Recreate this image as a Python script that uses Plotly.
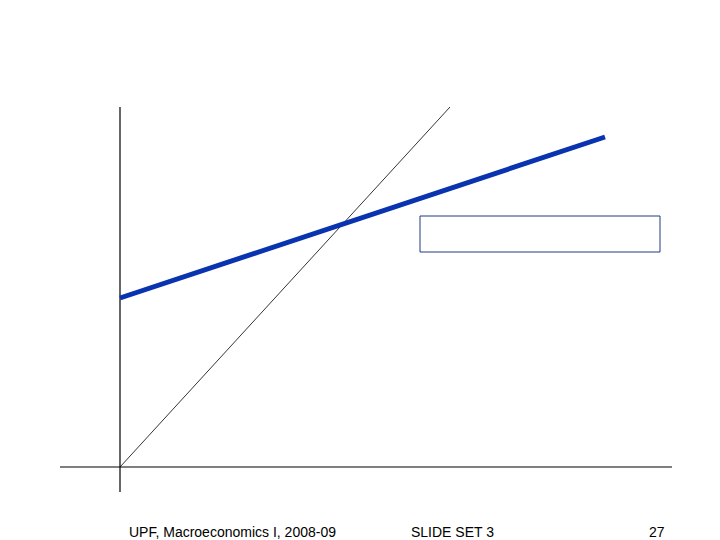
import plotly.graph_objects as go

# Coordinates relative to the origin of the diagram (arbitrary units)
diag_x = [0, 330]
diag_y = [0, 360]
line_x = [0, 485]
line_y = [169, 330]
haxis_x = [-60, 552]
haxis_y = [0, 0]
vaxis_x = [0, 0]
vaxis_y = [-25, 360]
box_x = [300, 540]
box_y = [215, 251]
footer_texts = ["UPF, Macroeconomics I, 2008-09", "SLIDE SET 3", "27"]
footer_x = [112, 332, 537]
footer_y = -65

fig = go.Figure()
fig.add_trace(go.Scatter(x=haxis_x, y=haxis_y, mode="lines",
                         line=dict(color="black", width=1.2), hoverinfo="skip"))
fig.add_trace(go.Scatter(x=vaxis_x, y=vaxis_y, mode="lines",
                         line=dict(color="black", width=1.2), hoverinfo="skip"))
fig.add_trace(go.Scatter(x=diag_x, y=diag_y, mode="lines",
                         line=dict(color="black", width=0.8), hoverinfo="skip"))
fig.add_trace(go.Scatter(x=line_x, y=line_y, mode="lines",
                         line=dict(color="#0A33B0", width=5), hoverinfo="skip"))
fig.add_shape(type="rect", x0=box_x[0], x1=box_x[1], y0=box_y[0], y1=box_y[1],
              line=dict(color="#1F3A80", width=1), fillcolor="white", layer="below")

for t, xx in zip(footer_texts, footer_x):
    fig.add_annotation(x=xx, y=footer_y, text=t, showarrow=False,
                       xanchor="center", yanchor="middle",
                       font=dict(family="Liberation Sans, Arial", size=14, color="black"))

fig.update_layout(
    width=712, height=532,
    margin=dict(l=0, r=0, t=0, b=0),
    paper_bgcolor="white", plot_bgcolor="white",
    showlegend=False,
    xaxis=dict(range=[-112, 600], visible=False, fixedrange=True),
    yaxis=dict(range=[-73, 459], visible=False, fixedrange=True),
)
fig.write_html("out.html")
